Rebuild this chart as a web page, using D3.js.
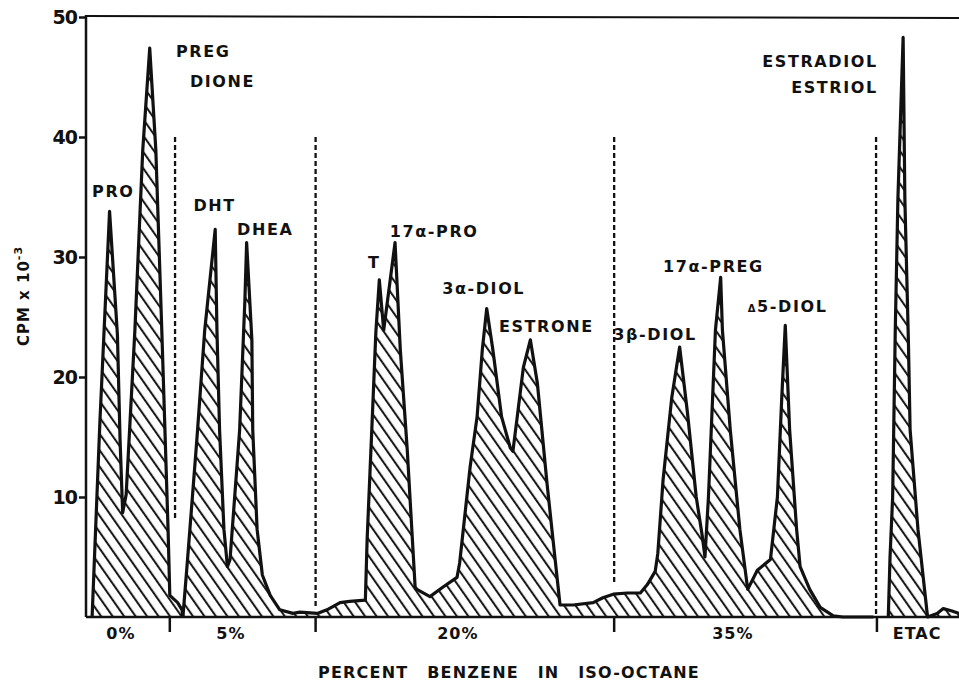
<!DOCTYPE html>
<html>
<head>
<meta charset="utf-8">
<script src="https://cdn.jsdelivr.net/npm/d3@7"></script>
<style>
  body { margin: 0; background: #fff; }
  text { font-family: "DejaVu Sans", sans-serif; font-weight: bold; fill: #111; }
</style>
</head>
<body>
<svg id="svg" width="959" height="681"></svg>
<script>
// fraction position (0-100 across the run) and CPM x 10^-3
var segA = [[0.7,0],[1.6,16.4],[2.7,33.8],[3.6,23.5],[3.9,14.8],[4.2,8.7],[4.6,10.2],[5.6,23.9],
  [6.5,38.9],[7.3,47.4],[8.0,38.9],[8.7,23.5],[9.4,7.3],[9.6,1.8],[10.5,1.2],[11.0,0.6],[11.1,0]];

var segB = [[11.1,0],[11.6,4.5],[12.7,14.8],[13.6,23.9],[14.8,32.3],[15.0,23.9],[15.3,15.6],[15.8,7.3],
  [16.2,4.2],[16.5,4.8],[17.6,15.6],[18.2,26.4],[18.4,31.2],[19.0,23.1],[19.1,15.6],[19.6,7.3],
  [20.2,3.5],[21.1,1.8],[22.2,0.6],[23.7,0.3],[24.5,0.4],[26.5,0.3],[27.6,0.6],[29.1,1.2],[30.2,1.3],
  [32.0,1.4],[32.2,6.4],[32.8,16.7],[33.2,23.7],[33.6,28.1],[34.1,23.9],[35.4,31.2],[36.0,22.3],
  [36.8,13.9],[37.7,2.5],[37.9,2.3],[39.4,1.7],[40.9,2.5],[42.5,3.3],[42.8,4.5],[44.0,12.5],
  [44.8,16.7],[45.4,22.3],[45.9,25.7],[46.6,22.3],[47.6,16.7],[48.6,14.1],[48.9,13.8],[49.4,16.7],
  [50.1,20.8],[50.9,23.1],[51.7,19.5],[52.8,11.2],[53.5,6.4],[54.3,1.0],[55.8,1.0],[58.1,1.2],
  [59.2,1.6],[60.4,1.9],[62.0,2.0],[63.5,2.0],[64.3,2.7],[65.2,3.8],[65.5,5.3],[66.1,11.4],
  [67.1,18.3],[68.0,22.5],[68.9,17.0],[69.9,10.0],[70.6,6.7],[70.9,5.0],[71.3,10.0],[72.1,23.9],
  [72.7,28.3],[72.9,23.9],[73.8,15.6],[74.9,7.3],[75.8,2.3],[76.9,3.9],[78.4,4.8],[79.2,10.0],
  [79.7,18.3],[80.1,24.3],[80.6,15.6],[81.4,7.3],[81.8,4.2],[82.9,2.3],[84.1,0.8],[85.6,0.1],
  [86.7,0],[90.2,0]];

var segC = [[91.9,0],[92.1,5.0],[92.4,10.0],[92.7,23.9],[93.0,34.8],[93.6,48.3],[93.8,34.8],[94.2,23.1],
  [94.4,15.6],[95.3,7.3],[96.4,0],[97.5,0.3],[98.2,0.7],[99.2,0.5],[100,0.3]];

var segments = [segA, segB, segC];

// solvent changes: position, top, bottom of the dashed line
var dividers = [[10.2,40,8.1],[26.3,40,0.8],[60.5,40,2.7],[90.5,40,0.2]];
var axisTicks = [9.6, 26.3, 60.5, 90.6];
var solvents = [["0%",4.0],["5%",16.6],["20%",42.6],["35%",74.1],["ETAC",95.2]];
var yTicks = [10, 20, 30, 40, 50];

// peak names: text, x, y, anchor
var peaks = [
  ["PRO",0.7,35.0,"start"],["PREG",10.3,46.7,"start"],["DIONE",11.9,44.2,"start"],
  ["DHT",12.3,33.8,"start"],["DHEA",17.3,31.8,"start"],["T",32.3,29.1,"start"],
  ["17α-PRO",34.8,31.7,"start"],["3α-DIOL",40.8,26.9,"start"],["ESTRONE",47.3,23.75,"start"],
  ["3β-DIOL",60.4,23.1,"start"],["17α-PREG",66.1,28.75,"start"],["Δ5-DIOL",75.8,25.4,"start"],
  ["ESTRADIOL",90.7,45.8,"end"],["ESTRIOL",90.7,43.7,"end"]
];

var width = 959, height = 681;
var svg = d3.select("#svg");
var x = d3.scaleLinear().domain([0, 100]).range([86, 959]);
var y = d3.scaleLinear().domain([0, 50]).range([617, 17]);

var defs = svg.append("defs");
var pat = defs.append("pattern")
  .attr("id", "hatch")
  .attr("patternUnits", "userSpaceOnUse")
  .attr("width", 9.4)
  .attr("height", 10)
  .attr("patternTransform", "rotate(-35)");
pat.append("line")
  .attr("x1", 2).attr("y1", 0).attr("x2", 2).attr("y2", 10)
  .attr("stroke", "#111").attr("stroke-width", 2);

var area = d3.area()
  .x(d => x(d[0]))
  .y0(y(0))
  .y1(d => y(d[1]));

var line = d3.line()
  .x(d => x(d[0]))
  .y(d => y(d[1]));

segments.forEach(s => {
  svg.append("path")
    .attr("d", area(s))
    .attr("fill", "url(#hatch)");
  svg.append("path")
    .attr("d", line(s))
    .attr("fill", "none")
    .attr("stroke", "#111")
    .attr("stroke-width", 3.2)
    .attr("stroke-linejoin", "round");
  // side walls down to the baseline
  [s[0], s[s.length - 1]].forEach(p => {
    svg.append("line")
      .attr("x1", x(p[0])).attr("x2", x(p[0]))
      .attr("y1", y(p[1])).attr("y2", y(0))
      .attr("stroke", "#111").attr("stroke-width", 3);
  });
});

// dashed solvent change lines
dividers.forEach(d => {
  svg.append("line")
    .attr("x1", x(d[0])).attr("x2", x(d[0]))
    .attr("y1", y(d[1])).attr("y2", y(d[2]))
    .attr("stroke", "#111")
    .attr("stroke-width", 2.3)
    .attr("stroke-dasharray", "5,3");
});

// axes frame
svg.append("line")
  .attr("x1", x(0)).attr("x2", x(100))
  .attr("y1", y(0)).attr("y2", y(0))
  .attr("stroke", "#111").attr("stroke-width", 2.5);
svg.append("line")
  .attr("x1", x(0)).attr("x2", x(0))
  .attr("y1", y(0)).attr("y2", 15)
  .attr("stroke", "#111").attr("stroke-width", 2.5);
svg.append("line")
  .attr("x1", x(0)).attr("x2", x(100))
  .attr("y1", 16).attr("y2", 18)
  .attr("stroke", "#111").attr("stroke-width", 2);

var yAxis = d3.axisLeft(y).tickValues(yTicks).tickSize(7).tickPadding(2);
var gy = svg.append("g")
  .attr("transform", "translate(" + x(0) + ",0)")
  .call(yAxis);
gy.select(".domain").remove();
gy.selectAll(".tick line").attr("stroke", "#111").attr("stroke-width", 2.5);
gy.selectAll(".tick text")
  .attr("font-size", 19)
  .attr("font-family", "DejaVu Sans")
  .attr("font-weight", "bold")
  .attr("fill", "#111")
  .attr("letter-spacing", -1);

// ticks below baseline between solvents
axisTicks.forEach(t => {
  svg.append("line")
    .attr("x1", x(t)).attr("x2", x(t))
    .attr("y1", y(0)).attr("y2", y(0) + 15)
    .attr("stroke", "#111").attr("stroke-width", 2.5);
});

solvents.forEach(s => {
  svg.append("text")
    .attr("x", x(s[1]))
    .attr("y", y(0) + 22)
    .attr("text-anchor", "middle")
    .attr("font-size", 16)
    .attr("letter-spacing", 1)
    .text(s[0]);
});

peaks.forEach(p => {
  var t = svg.append("text")
    .attr("x", x(p[1]))
    .attr("y", y(p[2]))
    .attr("text-anchor", p[3])
    .attr("font-size", 16)
    .attr("letter-spacing", 1.6);
  if (p[0][0] === "Δ") {
    t.append("tspan").attr("font-size", 10).text("Δ");
    t.append("tspan").text(p[0].slice(1));
  } else {
    t.text(p[0]);
  }
});

svg.append("text")
  .attr("x", 509)
  .attr("y", 678)
  .attr("text-anchor", "middle")
  .attr("font-size", 16)
  .attr("letter-spacing", 1.2)
  .attr("word-spacing", 12)
  .text("PERCENT BENZENE IN ISO-OCTANE");

var yt = svg.append("text")
  .attr("transform", "translate(29,296) rotate(-90)")
  .attr("text-anchor", "middle")
  .attr("font-size", 15)
  .attr("letter-spacing", 1);
yt.append("tspan").text("CPM x 10");
yt.append("tspan").attr("font-size", 11).attr("dy", -7).text("-3");
</script>
</body>
</html>
